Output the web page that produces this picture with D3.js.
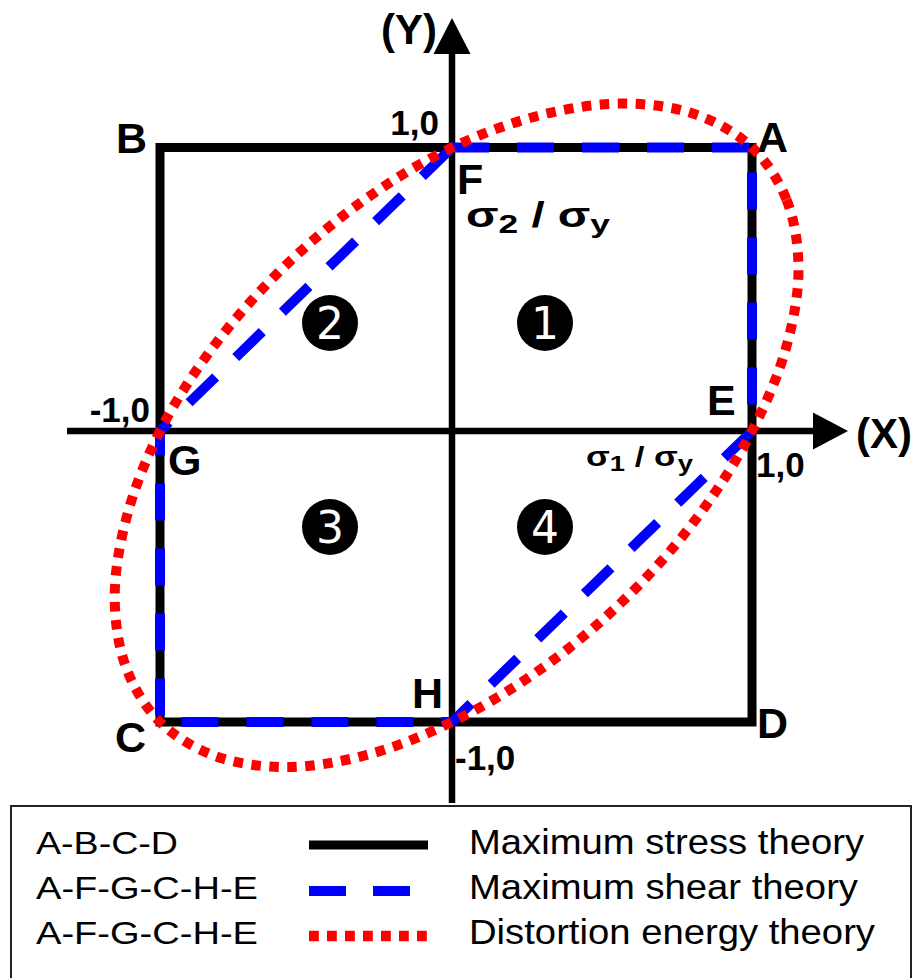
<!DOCTYPE html>
<html>
<head>
<meta charset="utf-8">
<script src="https://cdn.jsdelivr.net/npm/d3@7"></script>
<style>
  html, body { margin: 0; padding: 0; background: #fff; }
  svg { display: block; }
</style>
</head>
<body>
<div id="chart"></div>
<script>
// Failure envelopes in the normalised principal-stress plane (σ1/σy, σ2/σy)

// Maximum stress theory: square A-B-C-D
const stressLabels = ["A", "B", "C", "D"];
const stressX = [1, -1, -1, 1];
const stressY = [1, 1, -1, -1];

// Maximum shear theory: hexagon through F, A, E, H, C, G
const shearLabels = ["F", "A", "E", "H", "C", "G"];
const shearX = [0, 1, 1, 0, -1, -1];
const shearY = [1, 1, 0, -1, -1, 0];

// Distortion energy theory: ellipse outline points
const energyX = [1, 1.115, 1.155, 1.115, 1, 0.816, 0.577, 0.299, 0, -0.299, -0.577, -0.816,
                 -1, -1.115, -1.155, -1.115, -1, -0.816, -0.577, -0.299, 0, 0.299, 0.577, 0.816];
const energyY = [1, 0.816, 0.577, 0.299, 0, -0.299, -0.577, -0.816, -1, -1.115, -1.155, -1.115,
                 -1, -0.816, -0.577, -0.299, 0, 0.299, 0.577, 0.816, 1, 1.115, 1.155, 1.115];

// Axis tick labels
const tickLabels = ["-1,0", "1,0"];
const quadrantNumbers = ["1", "2", "3", "4"];

// Legend rows
const legendCodes = ["A-B-C-D", "A-F-G-C-H-E", "A-F-G-C-H-E"];
const legendNames = ["Maximum stress theory", "Maximum shear theory", "Distortion energy theory"];

const W = 914, H = 978;
const FONT = "'Liberation Sans', Arial, Helvetica, sans-serif";

const svg = d3.select("#chart").append("svg")
  .attr("width", W).attr("height", H);

const x = d3.scaleLinear().domain([-1, 0, 1]).range([160, 452, 752]);
const y = d3.scaleLinear().domain([-1, 0, 1]).range([722, 431, 147.5]);

const pts = (xs, ys) => xs.map((v, i) => [v, ys[i]]);
const line = d3.line().x(d => x(d[0])).y(d => y(d[1]));

// ---- axes with arrowheads ----
const axes = svg.append("g");
axes.append("line")
  .attr("x1", 67).attr("x2", 816).attr("y1", y(0)).attr("y2", y(0))
  .attr("stroke", "#000").attr("stroke-width", 6.5);
axes.append("path")
  .attr("d", `M813,${y(0) - 18.5} L848,${y(0)} L813,${y(0) + 18.5} Z`)
  .attr("fill", "#000");
axes.append("line")
  .attr("x1", x(0)).attr("x2", x(0)).attr("y1", 803).attr("y2", 51)
  .attr("stroke", "#000").attr("stroke-width", 6.5);
axes.append("path")
  .attr("d", `M${x(0) - 18.5},54 L${x(0)},18 L${x(0) + 18.5},54 Z`)
  .attr("fill", "#000");

// ---- maximum stress square ----
svg.append("path")
  .attr("d", line.curve(d3.curveLinearClosed)(pts(stressX, stressY)))
  .attr("fill", "none").attr("stroke", "#000").attr("stroke-width", 9)
  .attr("stroke-linejoin", "miter");

// ---- maximum shear hexagon ----
svg.append("path")
  .attr("d", line.curve(d3.curveLinearClosed)(pts(shearX, shearY)))
  .attr("fill", "none").attr("stroke", "#0000ff").attr("stroke-width", 10)
  .attr("stroke-dasharray", "37,28");

// ---- distortion energy ellipse ----
svg.append("path")
  .attr("d", line.curve(d3.curveCatmullRomClosed.alpha(0.5))(pts(energyX, energyY)))
  .attr("fill", "none").attr("stroke", "#ff0000").attr("stroke-width", 10)
  .attr("stroke-dasharray", "9.5,8.5");

// ---- point labels ----
const bold = (sel) => sel.attr("font-family", FONT).attr("font-weight", "bold").attr("fill", "#000");
const pointPos = {
  A: [757, 152], B: [116, 153], C: [115, 752], D: [757, 738],
  E: [707, 415], F: [457, 194], G: [168, 475], H: [412, 708]
};
Object.entries(pointPos).forEach(([k, p]) => {
  bold(svg.append("text")).attr("x", p[0]).attr("y", p[1])
    .attr("font-size", 43).text(k);
});

// tick labels
bold(svg.append("text")).attr("x", 439).attr("y", 135).attr("text-anchor", "end")
  .attr("font-size", 35).text(tickLabels[1]);
bold(svg.append("text")).attr("x", 756).attr("y", 477)
  .attr("font-size", 35).text(tickLabels[1]);
bold(svg.append("text")).attr("x", 150).attr("y", 422).attr("text-anchor", "end")
  .attr("font-size", 35).text(tickLabels[0]);
bold(svg.append("text")).attr("x", 455).attr("y", 770)
  .attr("font-size", 35).text(tickLabels[0]);

// axis names
bold(svg.append("text")).attr("x", 437).attr("y", 44).attr("text-anchor", "end")
  .attr("font-size", 42).text("(Y)");
bold(svg.append("text")).attr("x", 856).attr("y", 448)
  .attr("font-size", 42).text("(X)");

// stress ratio labels
function ratioLabel(px, py, sub, size, subSize, len) {
  const t = bold(svg.append("text")).attr("x", px).attr("y", py).attr("font-size", size);
  t.append("tspan").text("σ");
  t.append("tspan").attr("font-size", subSize).attr("dy", size * 0.18).text(sub);
  t.append("tspan").attr("dy", -size * 0.18).text(" / σ");
  t.append("tspan").attr("font-size", subSize).attr("dy", size * 0.18).text("y");
  if (len) t.attr("textLength", len).attr("lengthAdjust", "spacingAndGlyphs");
}
ratioLabel(466, 227, "2", 35, 26, 144);
ratioLabel(586, 466, "1", 28, 22, 107);

// quadrant markers
const quadPos = [[545, 323], [330, 323], [330, 527], [545, 527]];
quadrantNumbers.forEach((n, i) => {
  const [cx, cy] = quadPos[i];
  svg.append("circle").attr("cx", cx).attr("cy", cy).attr("r", 28).attr("fill", "#000");
  svg.append("text").attr("x", cx).attr("y", cy + 16)
    .attr("text-anchor", "middle").attr("font-family", "'DejaVu Sans', Verdana, sans-serif")
    .attr("font-size", 44).attr("fill", "#fff").text(n);
});

// ---- legend ----
const legend = svg.append("g");
legend.append("rect")
  .attr("x", 11).attr("y", 806).attr("width", 900).attr("height", 220)
  .attr("fill", "#fff").attr("stroke", "#222").attr("stroke-width", 2);

const rowBase = [854, 899, 944];
const codeLen = [142, 222, 222];
const nameLen = [395, 389, 406];
const sampleY = [845, 891, 936];
const sampleStyle = [
  { color: "#000", dash: null, width: 9 },
  { color: "#0000ff", dash: "37,27", width: 10 },
  { color: "#ff0000", dash: "9.8,8.2", width: 10.5 }
];
legendCodes.forEach((c, i) => {
  legend.append("text").attr("x", 36).attr("y", rowBase[i])
    .attr("font-family", FONT).attr("font-size", 32)
    .attr("textLength", codeLen[i]).attr("lengthAdjust", "spacingAndGlyphs").text(c);
  legend.append("text").attr("x", 469).attr("y", rowBase[i])
    .attr("font-family", FONT).attr("font-size", 35)
    .attr("textLength", nameLen[i]).attr("lengthAdjust", "spacingAndGlyphs").text(legendNames[i]);
  const s = sampleStyle[i];
  legend.append("line").attr("x1", 309).attr("x2", 428)
    .attr("y1", sampleY[i]).attr("y2", sampleY[i])
    .attr("stroke", s.color).attr("stroke-width", s.width)
    .attr("stroke-dasharray", s.dash);
});
</script>
</body>
</html>
